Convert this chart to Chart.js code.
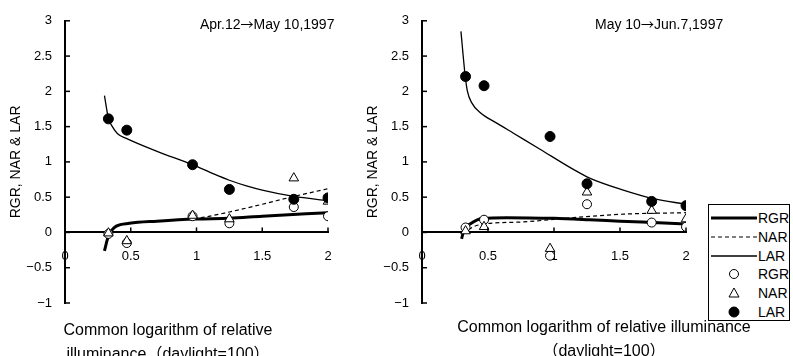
<!DOCTYPE html>
<html>
<head>
<meta charset="utf-8">
<script src="https://cdn.jsdelivr.net/npm/chart.js@4.4.1/dist/chart.umd.min.js"></script>
<style>
  body { margin: 0; width: 793px; height: 356px; position: relative; overflow: hidden; background: #fff;
         font-family: "Liberation Sans", "Noto Sans CJK JP", sans-serif; color: #000; }
  canvas { position: absolute; top: 0; }
  .period { position: absolute; font-size: 14px; line-height: 16px; white-space: nowrap; }
  .period b { font-weight: normal; font-family: "Noto Sans CJK JP", sans-serif; font-size: 13px; }
  .xtitle { position: absolute; font-size: 16px; line-height: 24px; text-align: center; white-space: nowrap; }
  #legend { position: absolute; left: 708px; top: 204px; width: 82px; height: 117px; border: 1px solid #000;
            background: #fff; padding-top: 4px; box-sizing: border-box; }
  #legend .row { height: 18.7px; display: flex; align-items: center; }
  #legend svg { width: 48px; height: 18px; flex: none; }
  #legend span { font-size: 14px; margin-left: 1px; white-space: nowrap; }
</style>
</head>
<body>
<canvas id="left" width="357" height="356" style="left:0"></canvas>
<canvas id="right" width="436" height="356" style="left:357px"></canvas>
<div class="period" style="left:200px;top:16px">Apr.12<b>→</b>May 10,1997</div>
<div class="period" style="left:595px;top:16px">May 10<b>→</b>Jun.7,1997</div>
<div class="xtitle" style="left:48px;top:318px;width:240px">Common logarithm of relative<br>illuminance（daylight=100）</div>
<div class="xtitle" style="left:454px;top:315px;width:300px">Common logarithm of relative illuminance<br>（daylight=100）</div>
<div id="legend"></div>
<script>
// axis ticks
const xTickLabels = ['0', '0.5', '1', '1.5', '2'];
const yTickLabels = ['−1', '−0.5', '0', '0.5', '1', '1.5', '2', '2.5', '3'];

// measured plots, common log of relative illuminance
const logIllum = [0.33, 0.47, 0.97, 1.25, 1.74, 2.0];

// Apr.12 -> May 10, 1997
const rgrApr = [-0.02, -0.15, 0.23, 0.13, 0.36, 0.23];
const narApr = [-0.01, -0.12, 0.24, 0.19, 0.77, 0.44];
const larApr = [1.61, 1.45, 0.96, 0.61, 0.47, 0.49];
// fitted curves
const rgrFitAprX = [0.30, 0.33, 0.355, 0.39, 0.49, 0.70, 1.0, 1.25, 1.5, 2.0];
const rgrFitAprY = [-0.26, -0.05, 0.03, 0.09, 0.13, 0.16, 0.19, 0.20, 0.23, 0.28];
const narFitAprX = [0.31, 0.33, 0.36, 0.40, 0.50, 0.70, 1.0, 1.25, 1.5, 1.74, 2.0];
const narFitAprY = [-0.15, -0.05, 0.04, 0.09, 0.13, 0.16, 0.20, 0.29, 0.40, 0.51, 0.62];
const larFitAprX = [0.30, 0.33, 0.36, 0.40, 0.47, 0.70, 0.97, 1.13, 1.25, 1.38, 1.5, 1.74, 2.0];
const larFitAprY = [1.94, 1.62, 1.50, 1.40, 1.33, 1.15, 0.96, 0.83, 0.74, 0.66, 0.60, 0.51, 0.45];

// May 10 -> Jun.7, 1997
const rgrMay = [0.07, 0.18, -0.33, 0.40, 0.14, 0.08];
const narMay = [0.02, 0.08, -0.23, 0.57, 0.31, 0.19];
const larMay = [2.21, 2.08, 1.36, 0.69, 0.44, 0.38];
const rgrFitMayX = [0.30, 0.32, 0.364, 0.46, 0.64, 1.0, 1.27, 1.5, 1.75, 2.0];
const rgrFitMayY = [-0.09, 0.05, 0.12, 0.20, 0.21, 0.20, 0.18, 0.16, 0.14, 0.12];
const narFitMayX = [0.31, 0.39, 0.47, 0.77, 1.15, 1.53, 2.0];
const narFitMayY = [-0.02, 0.08, 0.12, 0.15, 0.21, 0.26, 0.28];
const larFitMayX = [0.295, 0.326, 0.343, 0.376, 0.44, 0.566, 0.69, 0.894, 1.15, 1.27, 1.525, 1.75, 2.0];
const larFitMayY = [2.85, 2.24, 2.01, 1.84, 1.70, 1.55, 1.41, 1.18, 0.89, 0.77, 0.60, 0.48, 0.40];

const FONT = '"Liberation Sans", "Noto Sans CJK JP", sans-serif';

function pts(xs, ys) {
    return xs.map((x, i) => ({ x: x, y: ys[i] }));
}

// Excel style tick marks pointing into the plot
const insideTicks = {
    id: 'insideTicks',
    afterDatasetsDraw(chart) {
        const { ctx, scales: { x, y } } = chart;
        const x0 = x.getPixelForValue(0);
        const y0 = y.getPixelForValue(0);
        ctx.save();
        ctx.strokeStyle = '#000';
        ctx.lineWidth = 1.5;
        x.ticks.forEach(t => {
            const px = x.getPixelForValue(t.value);
            ctx.beginPath(); ctx.moveTo(px, y0); ctx.lineTo(px, y0 - 5); ctx.stroke();
        });
        y.ticks.forEach(t => {
            const py = y.getPixelForValue(t.value);
            ctx.beginPath(); ctx.moveTo(x0, py); ctx.lineTo(x0 + 5, py); ctx.stroke();
        });
        ctx.restore();
    }
};

function makeDatasets(rgr, nar, lar, rgrFit, narFit, larFit) {
    return [
        { label: 'RGR', data: rgrFit, showLine: true, borderColor: '#000', borderWidth: 3, pointRadius: 0,
          cubicInterpolationMode: 'monotone', order: 5 },
        { label: 'NAR', data: narFit, showLine: true, borderColor: '#000', borderWidth: 1.2, borderDash: [4, 3],
          pointRadius: 0, cubicInterpolationMode: 'monotone', order: 4 },
        { label: 'LAR', data: larFit, showLine: true, borderColor: '#000', borderWidth: 1.3, pointRadius: 0,
          cubicInterpolationMode: 'monotone', order: 3 },
        { label: 'RGR', data: pts(logIllum, rgr), pointStyle: 'circle', pointRadius: 4.5,
          backgroundColor: '#fff', borderColor: '#000', borderWidth: 1, order: 2 },
        { label: 'NAR', data: pts(logIllum, nar), pointStyle: 'triangle', pointRadius: 5.5,
          backgroundColor: '#fff', borderColor: '#000', borderWidth: 1, order: 1 },
        { label: 'LAR', data: pts(logIllum, lar), pointStyle: 'circle', pointRadius: 5,
          backgroundColor: '#000', borderColor: '#000', borderWidth: 1, order: 0 }
    ];
}

function createChart(canvasId, datasets, padRight) {
    return new Chart(document.getElementById(canvasId), {
        type: 'scatter',
        data: { datasets: datasets },
        options: {
            responsive: false,
            animation: false,
            layout: { padding: { left: 0, top: 17, right: padRight, bottom: 53 } },
            plugins: { legend: { display: false }, tooltip: { enabled: false } },
            scales: {
                x: {
                    type: 'linear', position: { y: 0 }, min: 0, max: 2,
                    afterFit: s => { s.height = 0; },
                    grid: { display: false, drawTicks: false },
                    border: { display: true, color: '#000', width: 2 },
                    ticks: { stepSize: 0.5, autoSkip: false, maxRotation: 0, padding: 16, color: '#000',
                             font: { family: FONT, size: 13 }, callback: (v, i) => xTickLabels[i] }
                },
                y: {
                    type: 'linear', position: 'left', min: -1, max: 3,
                    afterFit: s => { s.width = 65; },
                    grid: { display: false, drawTicks: false },
                    border: { display: true, color: '#000', width: 2 },
                    ticks: { stepSize: 0.5, autoSkip: false, padding: 13, color: '#000',
                             font: { family: FONT, size: 13 }, callback: (v, i) => yTickLabels[i] },
                    title: { display: true, text: 'RGR, NAR & LAR', color: '#000', padding: { top: 8, bottom: 0 },
                             font: { family: FONT, size: 14 } }
                }
            }
        },
        plugins: [insideTicks]
    });
}

createChart('left', makeDatasets(rgrApr, narApr, larApr,
    pts(rgrFitAprX, rgrFitAprY), pts(narFitAprX, narFitAprY), pts(larFitAprX, larFitAprY)), 29);
const rightChart = createChart('right', makeDatasets(rgrMay, narMay, larMay,
    pts(rgrFitMayX, rgrFitMayY), pts(narFitMayX, narFitMayY), pts(larFitMayX, larFitMayY)), 107);

// legend built from the right chart's datasets
const svgNS = 'http://www.w3.org/2000/svg';
const legend = document.getElementById('legend');
rightChart.data.datasets.forEach(ds => {
    const row = document.createElement('div');
    row.className = 'row';
    const svg = document.createElementNS(svgNS, 'svg');
    let el;
    if (ds.showLine) {
        el = document.createElementNS(svgNS, 'line');
        el.setAttribute('x1', 2); el.setAttribute('x2', 48); el.setAttribute('y1', 9); el.setAttribute('y2', 9);
        el.setAttribute('stroke', '#000');
        el.setAttribute('stroke-width', ds.borderWidth);
        if (ds.borderDash) el.setAttribute('stroke-dasharray', ds.borderDash.join(' '));
    } else if (ds.pointStyle === 'triangle') {
        el = document.createElementNS(svgNS, 'polygon');
        el.setAttribute('points', '25,4 30,13 20,13');
        el.setAttribute('fill', ds.backgroundColor); el.setAttribute('stroke', '#000');
    } else {
        el = document.createElementNS(svgNS, 'circle');
        el.setAttribute('cx', 25); el.setAttribute('cy', 9); el.setAttribute('r', ds.pointRadius);
        el.setAttribute('fill', ds.backgroundColor); el.setAttribute('stroke', '#000');
    }
    svg.appendChild(el);
    row.appendChild(svg);
    const label = document.createElement('span');
    label.textContent = ds.label;
    row.appendChild(label);
    legend.appendChild(row);
});
</script>
</body>
</html>
